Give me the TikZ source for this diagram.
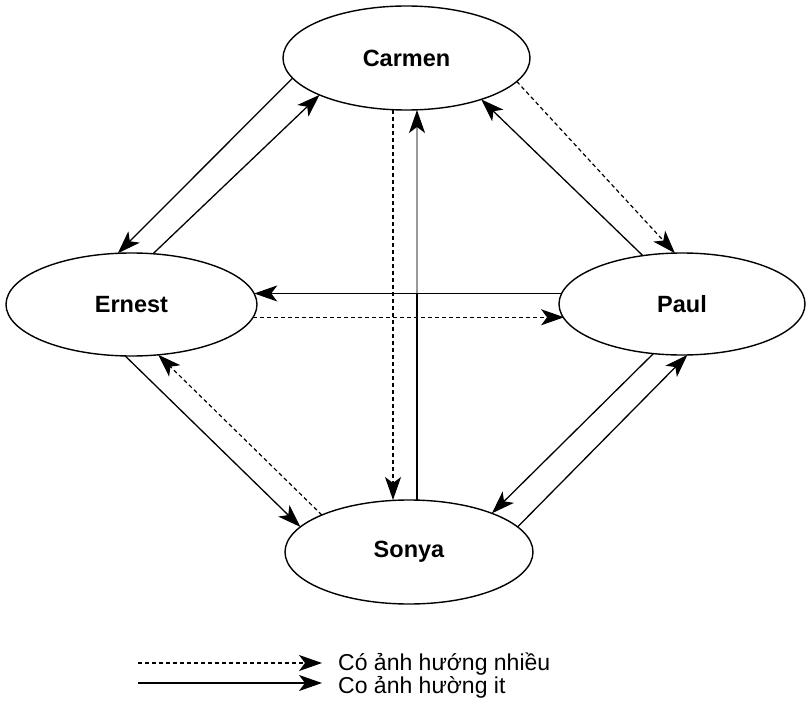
\documentclass[tikz,border=0pt]{standalone}
\usepackage{fontspec}
\setmainfont{Liberation Sans}
\usetikzlibrary{arrows.meta,shapes.geometric}
\begin{document}
\begin{tikzpicture}[x=1pt,y=-1pt,
  person/.style={ellipse,draw,line width=1.4pt,inner sep=0pt,outer sep=0pt,
    font=\fontsize{23.5}{28}\selectfont\bfseries},
  arrowhd/.style={-{Stealth[length=23pt,width=16pt,inset=6pt]}},
  strong/.style={arrowhd,line width=1.2pt,dash pattern=on 4pt off 3pt},
  weak/.style={arrowhd,line width=1.3pt},
  legendtext/.style={anchor=base west,inner sep=0pt,font=\fontsize{23}{28}\selectfont}]
\useasboundingbox (0,0) rectangle (806,706);

% people
\node[person,minimum width=247pt,minimum height=104pt] (carmen) at (406.5,58) {Carmen};
\node[person,minimum width=251pt,minimum height=103pt] (ernest) at (131.5,304.5) {Ernest};
\node[person,minimum width=246pt,minimum height=102pt] (paul) at (682,304) {Paul};
\node[person,minimum width=248pt,minimum height=104pt] (sonya) at (409,552) {Sonya};

% Carmen -- Ernest
\draw[weak] (carmen.190) -- (ernest.105);
\draw[weak] (ernest.67) -- (carmen.203);

% Carmen -- Sonya (vertical pair)
\draw[strong] ([xshift=-13.5pt]carmen.south) -- ([xshift=-16pt]sonya.north);
\coordinate (sx) at ([xshift=8pt]sonya.north);
\draw[line width=1.3pt,draw=black!40,-{Stealth[length=23pt,width=16pt,inset=6pt,color=black]}]
  (sx) -- ([xshift=10.5pt]carmen.south);
\draw[line width=1.5pt] (sx) -- (sx |- paul.175);

% Carmen -- Paul
\draw[strong] (carmen.348) -- (paul.98);
\draw[weak] (paul.129) -- (carmen.331);

% Ernest -- Paul
\draw[weak] (paul.175) -- (paul.175 -| ernest.5);
\draw[strong] (ernest.354) -- (ernest.354 -| paul.187);

% Ernest -- Sonya
\draw[weak] (ernest.263) -- (sonya.167);
\draw[strong] (sonya.157) -- (ernest.298);

% Paul -- Sonya
\draw[weak] (paul.240) -- (sonya.25);
\draw[weak] (sonya.13) -- (paul.276);

% legend
\coordinate (m0) at (138,663);
\coordinate (m1) at (322,663);
\coordinate (l0) at (138,683);
\coordinate (l1) at (322,683);
\draw[strong] (m0) -- (m1);
\draw[weak] (l0) -- (l1);
\node[legendtext] (mtext) at (338,670) {Có ảnh hướng nhiều};
\node[legendtext] (ltext) at (338,693) {Co ảnh hường it};
\end{tikzpicture}
\end{document}
